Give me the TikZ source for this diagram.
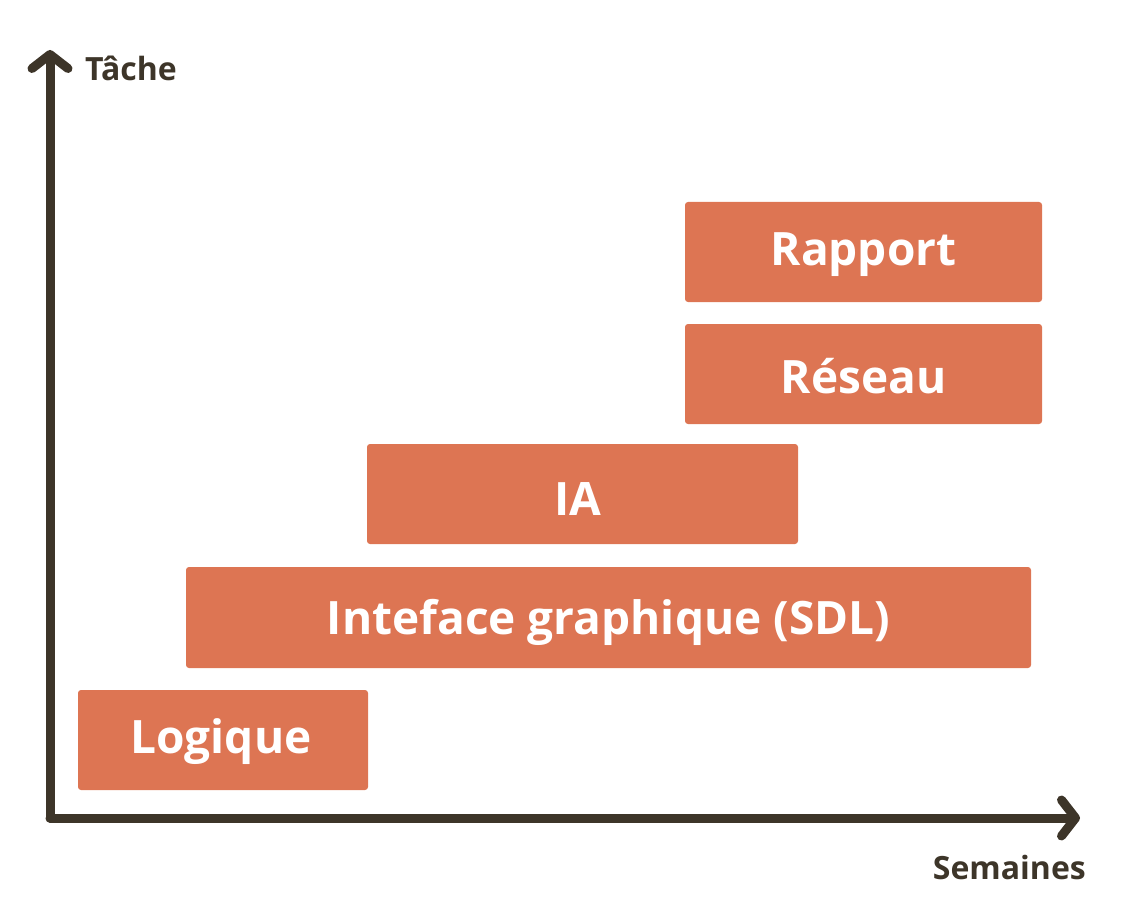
\documentclass[tikz,border=0pt]{standalone}
\usepackage{fontspec}
\setmainfont{Open Sans}
\usetikzlibrary{arrows.meta}
\definecolor{barfill}{HTML}{DD7553}
\definecolor{axiscol}{HTML}{3D3529}
\tikzset{
  task/.style={fill=barfill, rounded corners=3pt, draw=none},
  tasklabel/.style={text=white, font=\bfseries\fontsize{46}{56}\selectfont, anchor=center, inner sep=0pt},
  axis/.style={draw=axiscol, line width=9pt, line cap=round, line join=round,
    -{Straight Barb[length=14pt,width=36pt,line cap=round,line join=round]}},
  axislabel/.style={text=axiscol, font=\bfseries\fontsize{32}{40}\selectfont, inner sep=0pt}
}
\begin{document}
\begin{tikzpicture}[x=1pt,y=-1pt]
\useasboundingbox (0,0) rectangle (1123,909);
\coordinate (O) at (50,818);
\coordinate (Ytop) at (50,50);
\coordinate (Xend) at (1080,818);
\draw[axis] (O) -- (Ytop);
\draw[axis] (O) -- (Xend);
\node[axislabel, anchor=west] (ylab) at (85,68) {Tâche};
\node[axislabel, anchor=east] (xlab) at (1086,867) {Semaines};

\fill[task] (685,202) rectangle (1042,302);
\node[tasklabel] (rapport) at (863.5,255) {Rapport};
\fill[task] (685,324) rectangle (1042,424);
\node[tasklabel] (reseau) at (863.5,376) {Réseau};
\fill[task] (367,444) rectangle (798,544);
\node[tasklabel] (ia) at (578,499) {IA};
\fill[task] (186,567) rectangle (1031,668);
\node[tasklabel] (sdl) at (608.5,622) {Inteface graphique (SDL)};
\fill[task] (78,690) rectangle (368,790);
\node[tasklabel] (logique) at (221,742) {Logique};
\end{tikzpicture}
\end{document}
